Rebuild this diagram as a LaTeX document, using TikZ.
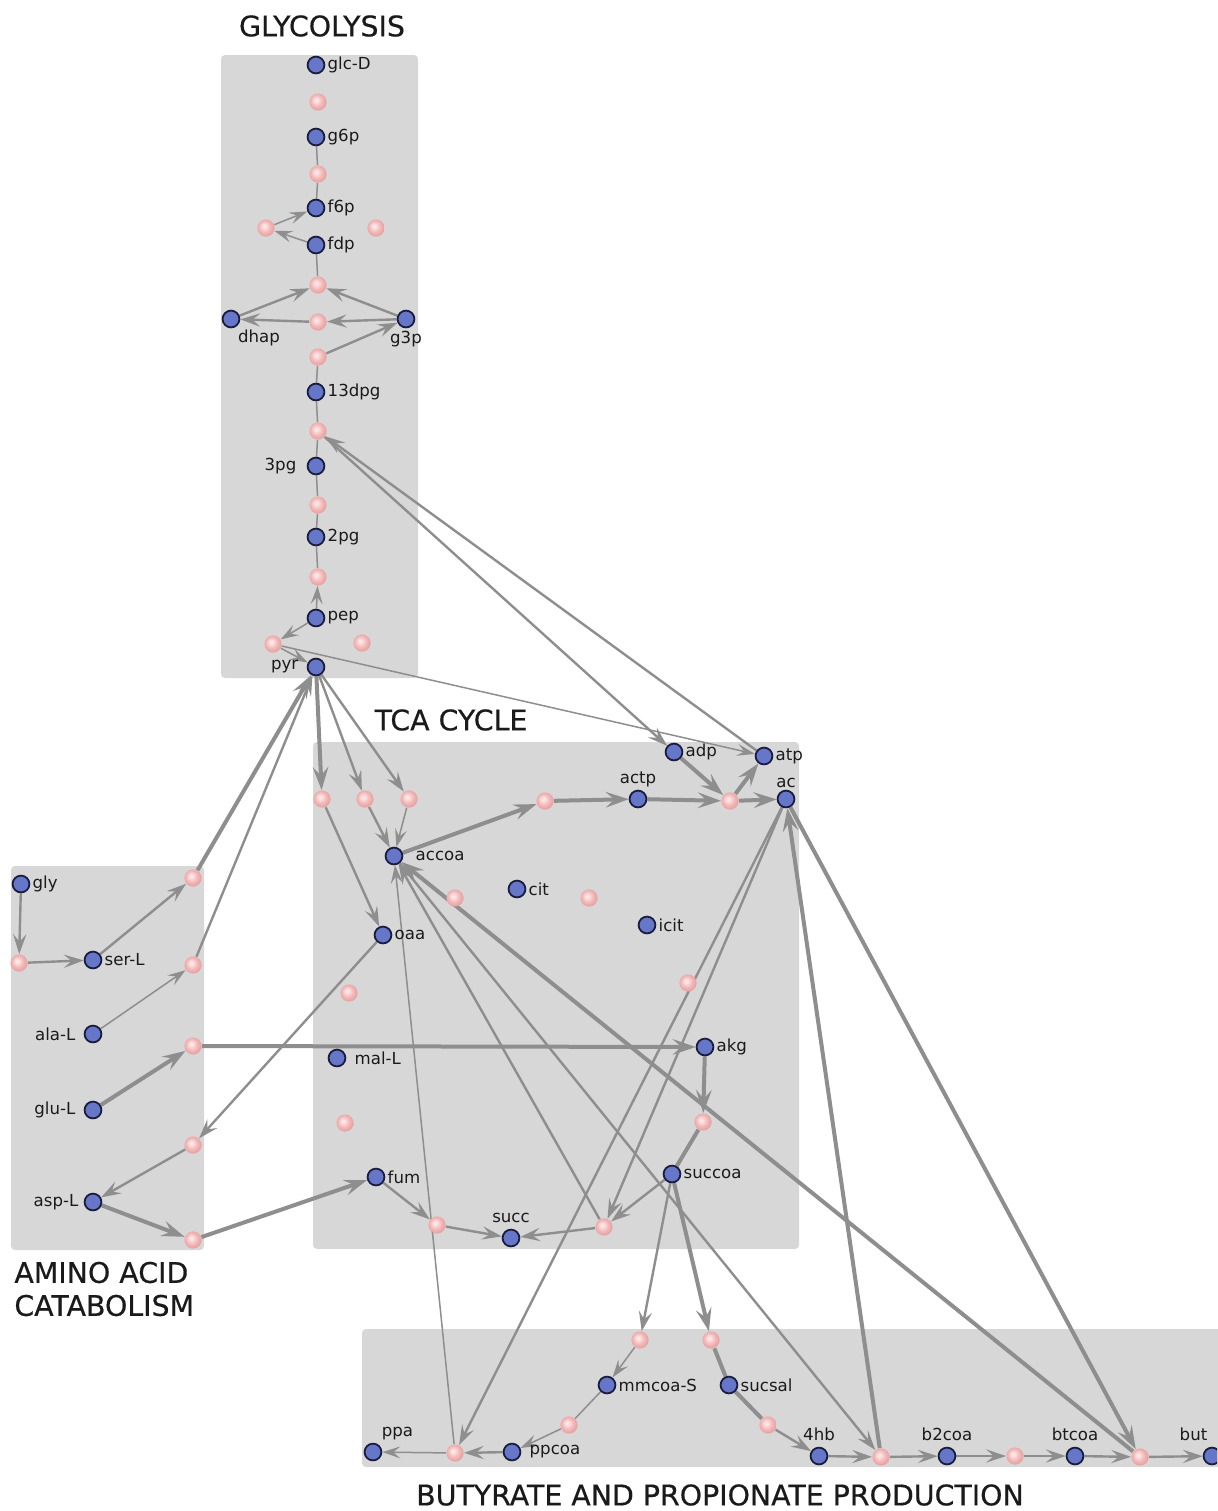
\documentclass[tikz,border=0pt]{standalone}
\usepackage{fontspec}
\setmainfont{DejaVu Sans}
\newfontfamily\ttlfont[FakeBold=0.5]{DejaVu Sans}
\usetikzlibrary{arrows.meta, backgrounds}
\definecolor{boxgray}{HTML}{D7D7D7}
\definecolor{metfill}{HTML}{6677CA}
\definecolor{metline}{HTML}{1B1D3D}
\definecolor{edgegray}{HTML}{8E8E8E}
\definecolor{textdark}{HTML}{1A1A1A}
\definecolor{pinkhi}{HTML}{FCE6E6}
\definecolor{pinkmid}{HTML}{F3B8B8}
\definecolor{pinkrim}{HTML}{E49D9D}
\pgfdeclareradialshading{pinkball}{\pgfpoint{-6bp}{6bp}}{color(0bp)=(pinkhi); color(4bp)=(pinkhi); color(16bp)=(pinkmid); color(28bp)=(pinkrim); color(50bp)=(pinkrim)}

\begin{document}
\begin{tikzpicture}[x=0.5pt, y=-0.5pt,
    >={Stealth[length=7.5pt 2, width=4.8pt 1.5, inset=3pt 0.7]},
    met/.style={circle, draw=metline, line width=0.9pt, fill=metfill, minimum size=8.4pt, inner sep=0pt},
    rxn/.style={circle, shading=pinkball, minimum size=8.6pt, inner sep=0pt},
    lbl/.style={font=\fontsize{8.3}{10}\selectfont, text=textdark, inner sep=1pt},
    ttl/.style={font=\ttlfont\fontsize{14.2}{16.5}\selectfont, text=textdark},
    pane/.style={fill=boxgray, rounded corners=2pt},
    lk1/.style={draw=edgegray, line width=0.75pt},
    lk2/.style={draw=edgegray, line width=1.2pt},
    lk3/.style={draw=edgegray, line width=2.0pt}]
  \useasboundingbox (0,0) rectangle (1217,1511);
  \clip (0,0) rectangle (1217,1511);
  % compartments
  \begin{scope}[on background layer]
    \fill[pane] (221,55) rectangle (418,678);
    \fill[pane] (313,742) rectangle (799,1249);
    \fill[pane] (11,866) rectangle (204,1250);
    \fill[pane] (362,1329) rectangle (1240,1467);
  \end{scope}
  \node[ttl] (tglyc) at (322,26) {GLYCOLYSIS};
  \node[ttl] (ttca) at (451,720) {TCA CYCLE};
  \node[ttl, align=left, anchor=west, inner sep=0pt] (tamino) at (14,1289) {AMINO ACID\\CATABOLISM};
  \node[ttl] (tbut) at (720,1495) {BUTYRATE AND PROPIONATE PRODUCTION};
  % metabolites
  \foreach \n/\x/\y/\p/\d/\t in {
      glcD/316/65/0/0/glc-D, g6p/316/137/0/0/g6p, f6p/316/208/0/0/f6p, fdp/316/245/0/0/fdp,
      dhap/231/319/-60/0/dhap, g3p/406/319/-90/0/g3p, dpg/316/392/0/0/13dpg,
      pgthree/316/466/180/4/3pg, pgtwo/316/537/0/0/2pg, pep/316/618/0/0/pep, pyr/316/667/180/3/pyr,
      adp/674/752/0/0/adp, atp/764/756/0/0/atp, actp/638/799/90/0/actp, ac/786/799/90/0/ac,
      accoa/394/856/0/5/accoa, cit/517/889/0/0/cit, icit/647/925/0/0/icit, oaa/383/935/0/0/oaa,
      akg/705/1047/0/0/akg, malL/337/1058/0/3/mal-L, fum/376/1177/0/0/fum,
      succoa/672/1174/0/0/succoa, succ/511/1238/90/2/succ,
      gly/21/884/0/0/gly, serL/93/960/0/0/ser-L, alaL/93/1034/180/3/ala-L,
      gluL/93/1110/180/3/glu-L, aspL/93/1202/180/1.5/asp-L,
      mmcoa/607/1385/0/0/mmcoa-S, sucsal/729/1385/0/0/sucsal, ppa/373/1452/55/1/ppa,
      ppcoa/512/1452/0/3/ppcoa, hb/819/1456/90/2/4hb, btwo/947/1456/90/2/b2coa,
      btcoa/1075/1456/90/2/btcoa, but/1212/1456/100/2/but}
    \node[met, label={[lbl, label distance=\d pt]\p:\t}] (\n) at (\x,\y) {};
  % reactions
  \foreach \n/\x/\y in {
      rhex/318/102, rpgi/318/174, rfbp/266/228, rpfk/376/228, rfba/318/285, rtpi/318/322,
      rgapd/318/357, rpgk/318/431, rpgm/318/505, reno/318/577, rpyk/273/644, rpps/362/643,
      rpc/322/799, rpfl/365/799, rpdh/409/799, rpta/545/801, rack/730/801, rcs/455/898,
      racont/589/898, ricdh/688/983, rmdh/349/993, rakgd/703/1122, rfumr/345/1123,
      rfrd/437/1225, rsct/604/1227,
      rserd/193/878, rghmt/19/963, ralat/193/965, rglut/193/1046, raspt/193/1145, raspd/193/1240,
      rmme/640/1340, rssal/711/1340, rmmcd/569/1425, rpct/455/1453, rhbd/768/1425,
      rhbct/881/1457, racd/1015/1456, rbct/1140/1457}
    \node[rxn] (\n) at (\x,\y) {};
  % connectors
  \begin{scope}[on background layer]
    \foreach \a/\b in {g6p/rpgi, rpgi/f6p, fdp/rfba, rgapd/dpg, dpg/rpgk, rpgk/pgthree,
        pgthree/rpgm, rpgm/pgtwo, pgtwo/reno, mmcoa/rmmcd}
      \draw[lk1] (\a) -- (\b);
    \foreach \a/\b in {pep/reno, pep/rpyk, rpyk/pyr, rpyk/atp, rpct/accoa, rmme/mmcoa,
        rmmcd/ppcoa, rpct/ppa, alaL/ralat, fdp/rfbp, rfbp/f6p, rpdh/accoa}
      \draw[lk1, ->] (\a) -- (\b);
    \foreach \a/\b in {dhap/rfba, g3p/rfba, g3p/rtpi, rtpi/dhap, rgapd/g3p, atp/rpgk, rpgk/adp,
        pyr/rpfl, pyr/rpdh, rpc/oaa, rpfl/accoa, serL/rserd, gly/rghmt, rghmt/serL,
        ralat/pyr, oaa/raspt, raspt/aspL, fum/rfrd, rfrd/succ, rsct/succ, succoa/rsct,
        ac/rsct, rsct/accoa, succoa/rmme, ac/rpct, ppcoa/rpct, accoa/rhbct, rhbd/hb,
        hb/rhbct, rhbct/btwo, btwo/racd, racd/btcoa, btcoa/rbct, rbct/but}
      \draw[lk2, ->] (\a) -- (\b);
    \foreach \a/\b in {pyr/rpc, accoa/rpta, rpta/actp, actp/rack, rack/ac, adp/rack, rack/atp,
        rserd/pyr, gluL/rglut, rglut/akg, aspL/raspd, raspd/fum, akg/rakgd, succoa/rssal,
        rhbct/ac, ac/rbct, rbct/accoa}
      \draw[lk3, ->] (\a) -- (\b);
    \foreach \a/\b in {rakgd/succoa, rssal/sucsal, sucsal/rhbd}
      \draw[lk3] (\a) -- (\b);
  \end{scope}
\end{tikzpicture}
\end{document}
